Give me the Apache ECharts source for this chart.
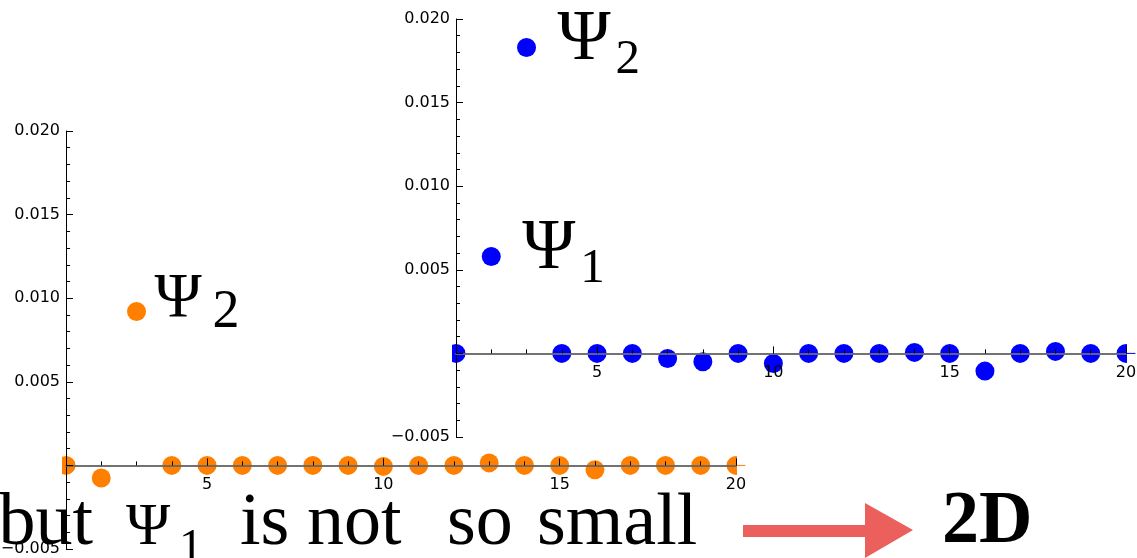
<!DOCTYPE html>
<html>
<head>
<meta charset="utf-8">
<script src="https://cdn.jsdelivr.net/npm/echarts@6/dist/echarts.min.js"></script>
<style>
  html, body { margin: 0; padding: 0; background: #fff; }
  #chart { width: 1137px; height: 558px; }
</style>
</head>
<body>
<div id="chart"></div>
<script>
// ---- data ----
const xValues = [1, 2, 3, 4, 5, 6, 7, 8, 9, 10, 11, 12, 13, 14, 15, 16, 17, 18, 19, 20];
const orangeY = [0, -0.00075, 0.0092, 0, 0, 0, 0, 0, 0, -0.00006, 0, 0, 0.00015, 0, 0, -0.00026, 0, 0, 0, 0];
const blueY = [0, 0.0058, 0.0183, 0, 0, 0, -0.0003, -0.0005, 0, -0.0006, 0, 0, 0, 0.00006, 0, -0.00106, 0, 0.00012, 0, 0];
const xMajorTicks = [5, 10, 15, 20];
const xMinorTicks = [1, 2, 3, 4, 5, 6, 7, 8, 9, 10, 11, 12, 13, 14, 15, 16, 17, 18, 19, 20];
const yMin = -0.005, yMax = 0.02, yStep = 0.005;
const blueNoteX = [2, 3];
const blueNoteSub = ['1', '2'];
const orangeNoteX = [3];
const orangeNoteSub = ['2'];
const captionWords = ['but', 'is', 'not', 'so', 'small'];
const captionPsiSub = '1';
const sideLabel = '2D';

// ---- chart ----
const chart = echarts.init(document.getElementById('chart'), null, { renderer: 'canvas' });

const tickFont = 'DejaVu Sans';
function yFmt(v) {
  if (Math.abs(v) < 1e-9) return '';
  return (v < 0 ? '\u2212' : '') + Math.abs(v).toFixed(3);
}
function makeX(grid, major) {
  return {
    gridIndex: grid, type: 'value', min: 1, max: 20, position: 'bottom', z: 10,
    axisLine: { show: true, onZero: !major, lineStyle: { color: '#6a6a6a', width: 1.5 } },
    axisTick: major
      ? { show: true, inside: true, length: 7, customValues: xMajorTicks, lineStyle: { color: '#000', width: 1 } }
      : { show: true, inside: true, length: 4, customValues: xMinorTicks, lineStyle: { color: '#000', width: 1 } },
    axisLabel: major
      ? { show: true, customValues: xMajorTicks, margin: 11, color: '#000', fontFamily: tickFont, fontSize: 16 }
      : { show: false },
    splitLine: { show: false }
  };
}
function makeY(grid, visible, lo) {
  return {
    gridIndex: grid, type: 'value', min: lo, max: yMax, interval: yStep, show: visible, z: 10,
    axisLine: { show: true, onZero: false, lineStyle: { color: '#000', width: 1 } },
    axisTick: { show: true, inside: true, length: 7, lineStyle: { color: '#000', width: 1 } },
    minorTick: { show: true, splitNumber: 5, length: 4, lineStyle: { color: '#000', width: 1 } },
    axisLabel: { show: true, margin: 6, color: '#000', fontFamily: tickFont, fontSize: 16, formatter: yFmt },
    splitLine: { show: false }, minorSplitLine: { show: false }
  };
}
const plotH = 418;
const zeroH = plotH * yMax / (yMax - yMin); // height from top of plot to y = 0
const gridOrange = { left: 66, top: 131, width: 670, height: plotH, containLabel: false, outerBoundsMode: 'none' };
const gridBlue = { left: 456, top: 19, width: 670, height: plotH, containLabel: false, outerBoundsMode: 'none' };
const gridOrangeUpper = Object.assign({}, gridOrange, { height: zeroH });
const gridBlueUpper = Object.assign({}, gridBlue, { height: zeroH });

const option = {
  animation: false,
  backgroundColor: '#fff',
  grid: [gridOrange, gridBlue, gridOrangeUpper, gridBlueUpper],
  xAxis: [makeX(0, false), makeX(1, false), makeX(2, true), makeX(3, true)],
  yAxis: [makeY(0, true, yMin), makeY(1, true, yMin), makeY(2, false, 0), makeY(3, false, 0)],
  series: [
    {
      type: 'scatter', xAxisIndex: 0, yAxisIndex: 0, clip: true,
      symbol: 'circle', symbolSize: 19,
      itemStyle: { color: '#ff8000', opacity: 1 },
      emphasis: { disabled: true },
      data: xValues.map((x, i) => [x, orangeY[i]]), z: 2
    },
    {
      type: 'scatter', xAxisIndex: 1, yAxisIndex: 1, clip: true,
      symbol: 'circle', symbolSize: 19,
      itemStyle: { color: '#0000ff', opacity: 1 },
      emphasis: { disabled: true },
      data: xValues.map((x, i) => [x, blueY[i]]), z: 2
    }
  ]
};
chart.setOption(option);

// ---- annotations (positioned via the chart's own scales) ----
const serif = 'Liberation Serif';
const graphics = [];

// masks that crop the half-dots at the plot edges (plot range clipping)
function edgeMasks(seriesIndex) {
  const a = chart.convertToPixel({ seriesIndex: seriesIndex }, [xValues[0], 0]);
  const b = chart.convertToPixel({ seriesIndex: seriesIndex }, [xValues[xValues.length - 1], 0]);
  graphics.push({ type: 'rect', silent: true, z: 5, shape: { x: a[0] - 24, y: a[1] - 11, width: 20, height: 22 }, style: { fill: '#fff' } });
  graphics.push({ type: 'rect', silent: true, z: 5, shape: { x: b[0] + 1, y: b[1] - 11, width: 20, height: 10.5 }, style: { fill: '#fff' } });
  graphics.push({ type: 'rect', silent: true, z: 5, shape: { x: b[0] + 1, y: b[1] + 0.5, width: 20, height: 10.5 }, style: { fill: '#fff' } });
}
edgeMasks(0);
edgeMasks(1);

function psiLabel(seriesIndex, x, y, sub, st) {
  const p = chart.convertToPixel({ seriesIndex: seriesIndex }, [x, y]);
  graphics.push({
    type: 'text', silent: true, z: 100, x: p[0] + st.dx, y: p[1] + st.dy,
    style: { text: '\u03A8', fontFamily: serif, fontSize: st.size, fill: '#000', align: 'left', verticalAlign: 'middle' }
  });
  graphics.push({
    type: 'text', silent: true, z: 100, x: p[0] + st.sdx, y: p[1] + st.sdy,
    style: { text: sub, fontFamily: serif, fontSize: st.ssize, fill: '#000', align: 'left', verticalAlign: 'middle' }
  });
}
const blueStyle = { dx: 31, dy: -7, size: 72, sdx: 89, sdy: 13, ssize: 49 };
const orangeStyle = { dx: 18, dy: -11, size: 64, sdx: 76, sdy: 1, ssize: 54 };
blueNoteX.forEach((x, k) => psiLabel(1, x, blueY[xValues.indexOf(x)], blueNoteSub[k], blueStyle));
orangeNoteX.forEach((x, k) => psiLabel(0, x, orangeY[xValues.indexOf(x)], orangeNoteSub[k], orangeStyle));

// caption
const capY = 525;
const capWordPos = [[93, 'right'], [240, 'left'], [307, 'left'], [447, 'left'], [537, 'left']];
captionWords.forEach((w, i) => {
  graphics.push({
    type: 'text', silent: true, z: 110, x: capWordPos[i][0], y: capY,
    style: { text: w, fontFamily: serif, fontSize: 74, fill: '#000', align: capWordPos[i][1], verticalAlign: 'middle' }
  });
});
graphics.push({
  type: 'text', silent: true, z: 110, x: 126, y: 528,
  style: { text: '\u03A8', fontFamily: serif, fontSize: 60, fill: '#000', align: 'left', verticalAlign: 'middle' }
});
graphics.push({
  type: 'text', silent: true, z: 110, x: 179, y: 549,
  style: { text: captionPsiSub, fontFamily: serif, fontSize: 48, fill: '#000', align: 'left', verticalAlign: 'middle' }
});
// arrow
graphics.push({
  type: 'rect', silent: true, z: 110,
  shape: { x: 743, y: 525, width: 126, height: 12 },
  style: { fill: '#eb5f5c' }
});
graphics.push({
  type: 'polygon', silent: true, z: 110,
  shape: { points: [[865, 503], [913, 530], [865, 558]] },
  style: { fill: '#eb5f5c' }
});
graphics.push({
  type: 'text', silent: true, z: 110, x: 942, y: 523,
  style: { text: sideLabel, fontFamily: serif, fontWeight: 'bold', fontSize: 74, fill: '#000', align: 'left', verticalAlign: 'middle' }
});
chart.setOption({ graphic: graphics });
</script>
</body>
</html>
